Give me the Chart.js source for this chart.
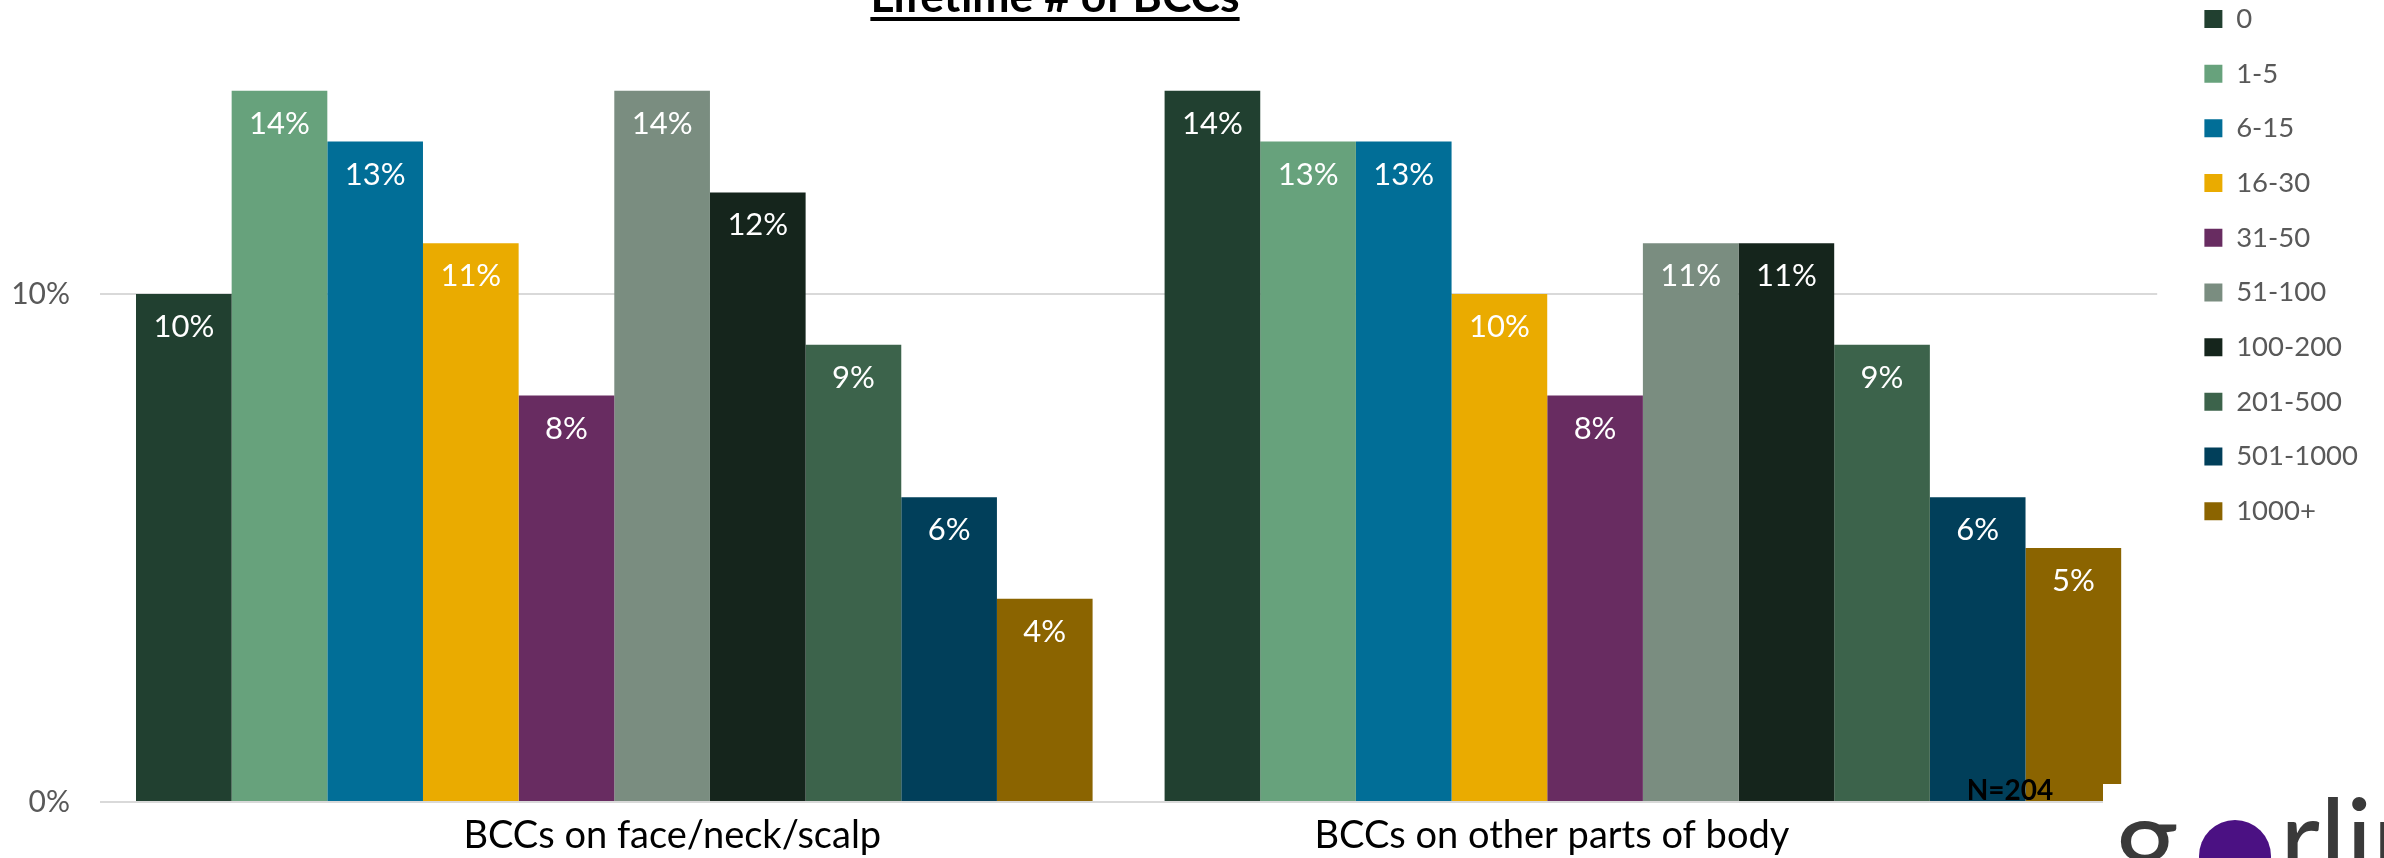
<!DOCTYPE html>
<html>
<head>
<meta charset="utf-8">
<script src="https://cdn.jsdelivr.net/npm/chart.js@4.4.1/dist/chart.umd.min.js"></script>
<style>
  html, body { margin: 0; padding: 0; background: #ffffff; overflow: hidden; }
  #wrap { position: relative; width: 2384px; height: 858px; overflow: hidden; }
  #c { position: absolute; left: 0; top: -22px; }
</style>
</head>
<body>
<div id="wrap"><canvas id="c" width="2384" height="880"></canvas></div>
<script>
const categories = ['BCCs on face/neck/scalp', 'BCCs on other parts of body'];
const seriesNames = ['0', '1-5', '6-15', '16-30', '31-50', '51-100', '100-200', '201-500', '501-1000', '1000+'];
const s0 = [10, 14];
const s1_5 = [14, 13];
const s6_15 = [13, 13];
const s16_30 = [11, 10];
const s31_50 = [8, 8];
const s51_100 = [14, 11];
const s100_200 = [12, 11];
const s201_500 = [9, 9];
const s501_1000 = [6, 6];
const s1000p = [4, 5];
const yTicks = [0, 10];
const titleText = 'Lifetime # of BCCs';
const noteText = 'N=204';

const seriesValues = [s0, s1_5, s6_15, s16_30, s31_50, s51_100, s100_200, s201_500, s501_1000, s1000p];
const colors = ['#214030', '#67a27c', '#016e97', '#eaab00', '#682c61', '#7a8d80', '#15251c', '#3c634b', '#013f5a', '#8b6400'];

const FONT = 'Lato, "Noto Sans", sans-serif';
// horizontal shift of each category caption relative to its group centre (style)
const captionShift = [58, -91];

const labelPlugin = {
  id: 'barLabels',
  afterDatasetsDraw(chart) {
    const ctx = chart.ctx;
    ctx.save();
    ctx.font = '31px ' + FONT;
    ctx.fillStyle = '#ffffff';
    ctx.textAlign = 'center';
    ctx.textBaseline = 'middle';
    chart.data.datasets.forEach((ds, i) => {
      const meta = chart.getDatasetMeta(i);
      meta.data.forEach((el, j) => {
        ctx.fillText(ds.data[j] + '%', el.x, el.y + 33);
      });
    });
    ctx.restore();
  },
  afterDraw(chart) {
    const ctx = chart.ctx;
    const xs = chart.scales.x;
    ctx.save();
    // category captions
    ctx.font = '38px ' + FONT;
    ctx.fillStyle = '#000000';
    ctx.textAlign = 'center';
    ctx.textBaseline = 'alphabetic';
    chart.data.labels.forEach((lab, i) => {
      ctx.fillText(lab, xs.getPixelForTick(i) + captionShift[i], 870);
    });
    // white note box covering lower right corner
    ctx.fillStyle = '#ffffff';
    ctx.fillRect(2103, 806, 281, 80);
    // N=204 note
    ctx.font = 'bold 28px ' + FONT;
    ctx.fillStyle = '#000000';
    ctx.fillText(noteText, 2010, 822);
    // Title (cut off at top)
    ctx.font = 'bold 45px ' + FONT;
    let w = ctx.measureText(titleText).width;
    const fs = 45 * 369 / w;
    ctx.font = 'bold ' + fs.toFixed(1) + 'px ' + FONT;
    w = ctx.measureText(titleText).width;
    ctx.fillText(titleText, 1055, 34);
    ctx.fillRect(1055 - w / 2, 39, w, 4);
    // logo
    ctx.textAlign = 'left';
    ctx.font = '125px ' + FONT;
    ctx.fillStyle = '#3a3a3a';
    ctx.fillText('g', 2114, 907);
    ctx.fillStyle = '#4b1183';
    ctx.beginPath();
    ctx.arc(2235, 878, 36, 0, Math.PI * 2);
    ctx.fill();
    ctx.font = '110px ' + FONT;
    ctx.fillStyle = '#3a3a3a';
    ctx.fillText('rlin', 2280, 900);
    ctx.restore();
  }
};

new Chart(document.getElementById('c'), {
  type: 'bar',
  data: {
    labels: categories,
    datasets: seriesNames.map((name, i) => ({
      label: name,
      data: seriesValues[i],
      backgroundColor: colors[i],
      borderWidth: 0,
      barPercentage: 1.0,
      categoryPercentage: 0.93
    }))
  },
  options: {
    responsive: false,
    animation: false,
    devicePixelRatio: 1,
    layout: { padding: { left: 0, top: 0, bottom: 0, right: 16 } },
    plugins: {
      legend: {
        position: 'right',
        align: 'start',
        labels: {
          font: { family: FONT, size: 27.5 },
          color: '#595959',
          boxWidth: 18,
          boxHeight: 18,
          padding: 27.2
        }
      },
      tooltip: { enabled: false },
      title: { display: false }
    },
    scales: {
      x: {
        grid: { display: false },
        border: { display: false },
        ticks: { display: false },
        afterFit(s) { s.height = 56; s.paddingLeft = 0; s.paddingRight = 0; }
      },
      y: {
        min: 0,
        max: 16.22,
        grid: { color: '#d9d9d9', lineWidth: 2, drawTicks: false },
        border: { display: false },
        ticks: {
          font: { family: FONT, size: 30 },
          color: '#595959',
          padding: 30,
          callback: (v) => v + '%'
        },
        afterBuildTicks(s) { s.ticks = yTicks.map(v => ({ value: v })); },
        afterFit(s) { s.width = 100; s.paddingTop = 0; s.paddingBottom = 0; }
      },
      y2: {
        position: 'right',
        display: true,
        min: 0,
        max: 16.22,
        grid: { display: false, drawTicks: false },
        border: { display: false },
        ticks: { display: false },
        afterFit(s) { s.width = 20; s.paddingTop = 0; s.paddingBottom = 0; }
      }
    }
  },
  plugins: [labelPlugin]
});
</script>
</body>
</html>
